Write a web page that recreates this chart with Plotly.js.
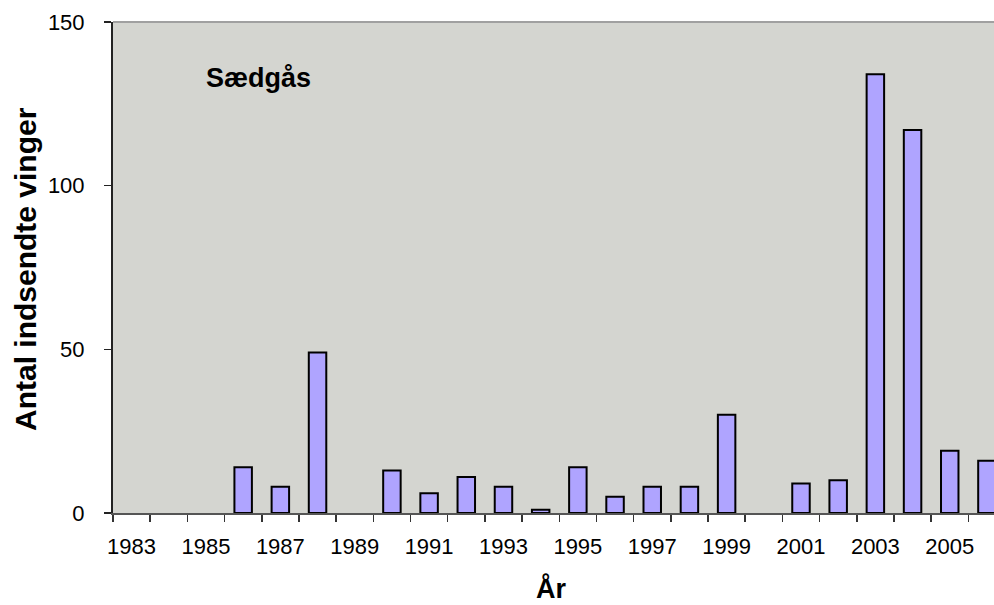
<!DOCTYPE html>
<html>
<head>
<meta charset="utf-8">
<script src="https://cdn.plot.ly/plotly-3.0.1.min.js"></script>
<style>html,body{margin:0;padding:0;background:#fff;}#chart{width:994px;height:605px;}</style>
</head>
<body>
<div id="chart"></div>
<script>
// Data (null = no wings reported that year)
const years = [1983,1984,1985,1986,1987,1988,1989,1990,1991,1992,1993,1994,1995,1996,1997,1998,1999,2000,2001,2002,2003,2004,2005,2006];
const wings = [null,null,null,14,8,49,null,13,6,11,8,1,14,5,8,8,30,null,9,10,134,117,19,16];
const labelYears = [1983,1985,1987,1989,1991,1993,1995,1997,1999,2001,2003,2005];
const chartTitle = "Sædgås";
const xTitle = "År";
const yTitle = "Antal indsendte vinger";

const W = 994, H = 605;
const L = 113, T = 22, B = 92;
const plotW = W - L, plotH = H - T - B;
const px2x = p => (p - L) / plotW;
const py2y = p => (H - B - p) / plotH;

const boundaries = years.map(y => y - 0.5);

const trace = {
  type: 'bar',
  x: years,
  y: wings,
  width: 0.47,
  marker: {color: '#AFA4FF', line: {color: '#000000', width: 2}},
  hoverinfo: 'x+y'
};

const layout = {
  width: W, height: H,
  margin: {l: L, r: 0, t: T, b: B, pad: 0},
  paper_bgcolor: '#ffffff',
  plot_bgcolor: '#D4D5D0',
  showlegend: false,
  font: {family: 'Liberation Sans, Arial, sans-serif', color: '#000'},
  xaxis: {
    type: 'linear',
    range: [1982.5, 2006.19],
    tickmode: 'array',
    tickvals: labelYears,
    ticktext: labelYears.map(String),
    ticks: '',
    tickfont: {size: 22, color: '#000'},
    ticklabelstandoff: 13,
    minor: {tickmode: 'array', tickvals: boundaries, ticks: 'outside', ticklen: 7, tickcolor: '#333', tickwidth: 1.5},
    showline: true, linecolor: '#555', linewidth: 2,
    showgrid: false, zeroline: false, fixedrange: true
  },
  yaxis: {
    range: [0, 150],
    tickmode: 'array',
    tickvals: [0, 50, 100, 150],
    ticks: 'outside', ticklen: 7, tickcolor: '#222', tickwidth: 1.5,
    tickfont: {size: 22, color: '#000'},
    ticklabelstandoff: 15,
    showline: true, linecolor: '#222', linewidth: 2,
    showgrid: false, zeroline: false, fixedrange: true
  },
  shapes: [
    {type: 'line', xref: 'paper', yref: 'paper', x0: 0, x1: 1, y0: 1, y1: 1, line: {color: '#A0A0A0', width: 2}}
  ],
  annotations: [
    {text: chartTitle, xref: 'paper', yref: 'paper', x: px2x(204), y: py2y(78), xanchor: 'left', yanchor: 'middle', showarrow: false,
     font: {size: 27, family: 'Liberation Sans, Arial, sans-serif', weight: 'bold', color: '#000'}},
    {text: yTitle, xref: 'paper', yref: 'paper', x: px2x(25), y: py2y(269), xanchor: 'center', yanchor: 'middle', textangle: -90, showarrow: false,
     font: {size: 30, family: 'Liberation Sans, Arial, sans-serif', weight: 'bold', color: '#000'}},
    {text: xTitle, xref: 'paper', yref: 'paper', x: px2x(551), y: py2y(588), xanchor: 'center', yanchor: 'middle', showarrow: false,
     font: {size: 27, family: 'Liberation Sans, Arial, sans-serif', weight: 'bold', color: '#000'}}
  ]
};

Plotly.newPlot('chart', [trace], layout, {displayModeBar: false, staticPlot: true});
</script>
</body>
</html>
